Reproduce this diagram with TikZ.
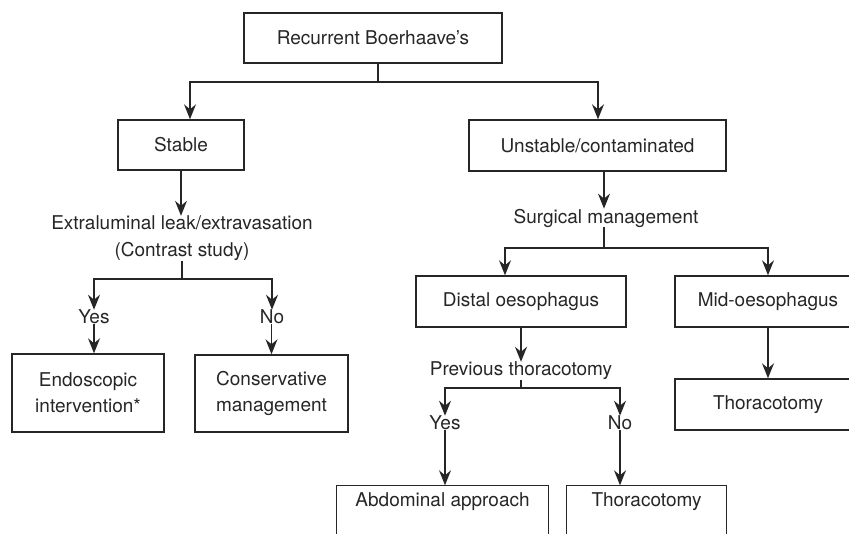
\documentclass[tikz,border=0pt]{standalone}
\usepackage{fontspec}
\setmainfont{TeX Gyre Heros}
\usetikzlibrary{arrows.meta}
\definecolor{ink}{HTML}{262626}
\tikzset{
  box/.style={draw=ink, line width=1.4pt, inner sep=0pt, align=center, font=\fontsize{19}{26}\selectfont, text=ink},
  lbl/.style={inner sep=0pt, align=center, font=\fontsize{19}{27}\selectfont, text=ink},
  ln/.style={draw=ink, line width=1.4pt},
  arr/.style={ln, -{Stealth[length=15pt,width=12pt,inset=5pt]}},
}
\begin{document}
\begin{tikzpicture}[x=1pt,y=-1pt]
\useasboundingbox (0,0) rectangle (849,534);
\clip (0,0) rectangle (849,534);
% boxes
\node[box, minimum width=258, minimum height=50] (top) at (373,38) {Recurrent Boerhaave’s};
\node[box, minimum width=126, minimum height=50] (stable) at (181,145) {Stable};
\node[box, minimum width=257, minimum height=51] (unst) at (597.5,145.5) {Unstable/contaminated};
\node[box, minimum width=152, minimum height=78] (endo) at (88,393) {Endoscopic\\intervention*};
\node[box, minimum width=153, minimum height=77] (cons) at (271.5,393.5) {Conservative\\management};
\node[box, minimum width=210, minimum height=51] (dist) at (521,301.5) {Distal oesophagus};
\node[box, minimum width=186, minimum height=51] (mid) at (768,301.5) {Mid-oesophagus};
\node[box, minimum width=186, minimum height=51] (thr) at (768,404.5) {Thoracotomy};
\node[box, draw=none, minimum width=211, minimum height=32] (abd) at (442.5,502) {Abdominal approach};
\node[box, draw=none, minimum width=159, minimum height=32] (thb) at (646.5,502) {Thoracotomy};
\draw[ln] (abd.south west) -- (abd.north west) -- (abd.north east) -- (abd.south east);
\draw[ln] (abd.south west) -- ++(0,40) (abd.south east) -- ++(0,40);
\draw[ln] (thb.south west) -- (thb.north west) -- (thb.north east) -- (thb.south east);
\draw[ln] (thb.south west) -- ++(0,40) (thb.south east) -- ++(0,40);
% labels
\node[lbl] (extra) at (182,238.5) {Extraluminal leak/extravasation\\(Contrast study)};
\node[lbl] (y1) at (94,317) {Yes};
\node[lbl] (n1) at (272,317) {No};
\node[lbl] (surg) at (606,218) {Surgical management};
\node[lbl] (prev) at (521,371) {Previous thoracotomy};
\node[lbl] (y2) at (445,423) {Yes};
\node[lbl] (n2) at (620,423) {No};
% coordinates
\coordinate (tj) at (378,82);
\coordinate (ej) at (182,279);
\coordinate (sj) at (604,248);
\coordinate (pj) at (521,388);
% connectors
\draw[ln] ([xshift=5pt]top.south) -- (tj);
\draw[arr] (tj) -| ([xshift=9pt]stable.north);
\draw[arr] (tj) -| ([xshift=0.5pt]unst.north);
\draw[arr] (stable.south) -- (stable.south |- extra.north);
\draw[ln] (ej |- extra.south) -- (ej);
\draw[arr] (ej) -| (y1.north);
\draw[arr] (ej) -| (n1.north);
\draw[arr] (y1.south) -- (y1.south |- endo.north);
\draw[arr] ([xshift=-0.5pt]n1.south) -- ([xshift=-0.5pt]n1.south |- cons.north);
\draw[arr] ([xshift=6.5pt]unst.south) -- ([xshift=6.5pt]unst.south |- surg.north);
\draw[ln] (sj |- surg.south) -- (sj);
\draw[arr] (sj) -| ([xshift=-16pt]dist.north);
\draw[arr] (sj) -| (mid.north);
\draw[arr] (mid.south) -- (thr.north);
\draw[arr] (dist.south) -- (prev.north);
\draw[ln] (prev.south) -- (pj);
\draw[arr] (pj) -| (y2.north);
\draw[arr] (pj) -| (n2.north);
\draw[arr] (y2.south) -- (y2.south |- abd.north);
\draw[arr] (n2.south) -- (n2.south |- thb.north);
\end{tikzpicture}
\end{document}
